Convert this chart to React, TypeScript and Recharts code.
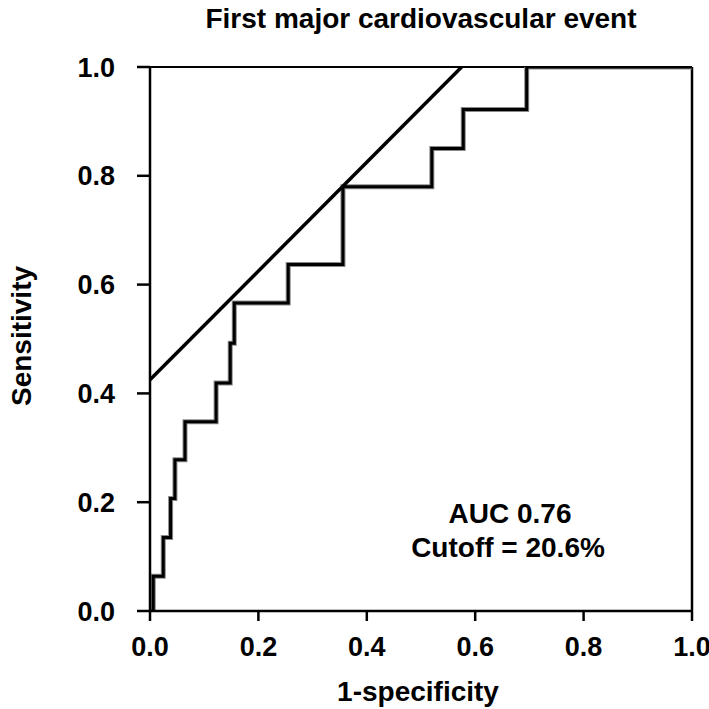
import React from 'react';
import { LineChart, Line, XAxis, YAxis, ReferenceLine } from 'recharts';

const rocFpr = [0, 0.006, 0.0245, 0.038, 0.046, 0.0646, 0.122, 0.148, 0.1555, 0.255, 0.356, 0.52, 0.578, 0.695, 1.0];
const rocTpr = [0, 0.064, 0.135, 0.207, 0.278, 0.348, 0.419, 0.492, 0.566, 0.637, 0.78, 0.85, 0.922, 1.0, 1.0];
const tangentFpr = [0, 0.575];
const tangentTpr = [0.425, 1.0];
const axisTicks = [0, 0.2, 0.4, 0.6, 0.8, 1.0];
const titleText = 'First major cardiovascular event';
const xLabelText = '1-specificity';
const yLabelText = 'Sensitivity';
const annotationLines = ['AUC 0.76', 'Cutoff = 20.6%'];

const rocData = rocFpr.map((x, i) => ({ x, y: rocTpr[i] }));
const tangentData = tangentFpr.map((x, i) => ({ x, y: tangentTpr[i] }));

const FONT = '"Liberation Sans", Arial, Helvetica, sans-serif';
const tickStyle = { fontFamily: FONT, fontWeight: 700, fontSize: 27, fill: '#000' };

export default function App() {
  return (
    <div style={{ position: 'absolute', left: 0, top: 0, width: 709, height: 709, background: '#fff' }}>
      <LineChart
        width={709}
        height={709}
        margin={{ top: 67, right: 17, bottom: 38, left: 20 }}
      >
        <XAxis
          type="number"
          dataKey="x"
          domain={[0, 1]}
          ticks={axisTicks}
          allowDataOverflow
          height={60}
          tickSize={10}
          tickMargin={16}
          tickFormatter={(v: number) => v.toFixed(1)}
          tick={tickStyle}
          axisLine={{ stroke: '#000', strokeWidth: 2.5 }}
          tickLine={{ stroke: '#000', strokeWidth: 2.5 }}
        />
        <YAxis
          type="number"
          dataKey="y"
          domain={[0, 1]}
          ticks={axisTicks}
          allowDataOverflow
          width={130}
          tickSize={13}
          tickMargin={22}
          tickFormatter={(v: number) => v.toFixed(1)}
          tick={tickStyle}
          axisLine={{ stroke: '#000', strokeWidth: 2.5 }}
          tickLine={{ stroke: '#000', strokeWidth: 2.5 }}
        />
        <ReferenceLine y={1} stroke="#000" strokeWidth={2} />
        <ReferenceLine x={1} stroke="#000" strokeWidth={2.5} />
        <Line
          data={rocData}
          dataKey="y"
          type="stepAfter"
          stroke="#8a8a8a"
          strokeWidth={5}
          dot={false}
          activeDot={false}
          isAnimationActive={false}
          strokeLinejoin="miter"
          strokeLinecap="butt"
        />
        <Line
          data={rocData}
          dataKey="y"
          type="stepAfter"
          stroke="#000"
          strokeWidth={3}
          dot={false}
          activeDot={false}
          isAnimationActive={false}
          strokeLinejoin="miter"
          strokeLinecap="butt"
        />
        <Line
          data={tangentData}
          dataKey="y"
          type="linear"
          stroke="#000"
          strokeWidth={3.5}
          dot={false}
          activeDot={false}
          isAnimationActive={false}
        />
        <text x={421} y={28} textAnchor="middle" style={{ fontFamily: FONT, fontWeight: 700, fontSize: 28 }} fill="#000">
          {titleText}
        </text>
        <text x={418} y={701} textAnchor="middle" style={{ fontFamily: FONT, fontWeight: 700, fontSize: 28 }} fill="#000">
          {xLabelText}
        </text>
        <text
          x={31}
          y={336}
          textAnchor="middle"
          transform="rotate(-90 31 336)"
          style={{ fontFamily: FONT, fontWeight: 700, fontSize: 28 }}
          fill="#000"
        >
          {yLabelText}
        </text>
        <text x={510} y={523} textAnchor="middle" style={{ fontFamily: FONT, fontWeight: 700, fontSize: 28 }} fill="#000">
          {annotationLines[0]}
        </text>
        <text x={508} y={557} textAnchor="middle" style={{ fontFamily: FONT, fontWeight: 700, fontSize: 28 }} fill="#000">
          {annotationLines[1]}
        </text>
      </LineChart>
    </div>
  );
}
